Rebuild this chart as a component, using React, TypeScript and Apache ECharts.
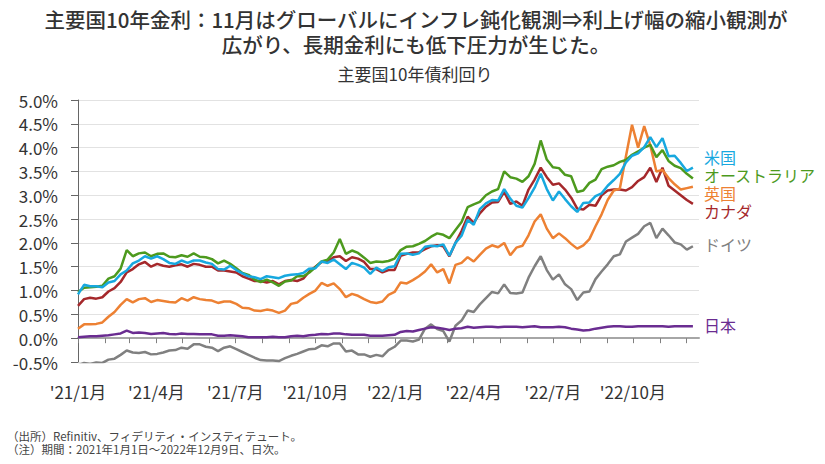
import React, { useEffect, useRef } from 'react';
import * as echarts from 'echarts';

const FONT = '"Noto Sans CJK JP", "Noto Sans", sans-serif';

const titleLines = [
  '主要国10年金利：11月はグローバルにインフレ鈍化観測⇒利上げ幅の縮小観測が',
  '広がり、長期金利にも低下圧力が生じた。',
];
const subtitle = '主要国10年債利回り';
const footnotes = [
  '（出所）Refinitiv、フィデリティ・インスティテュート。',
  '（注）期間：2021年1月1日～2022年12月9日、日次。',
];

// Weekly observation dates (Fridays), 2021-01-01 .. 2022-12-09
const obsDates: Date[] = Array.from({ length: 102 }, (_, i) => new Date(2021, 0, 1 + 7 * i));

// x-axis labels shown every 3 months
const xTickLabels = ["'21/1月", "'21/4月", "'21/7月", "'21/10月", "'22/1月", "'22/4月", "'22/7月", "'22/10月"];

const seriesNames = ['米国', 'オーストラリア', '英国', 'カナダ', 'ドイツ', '日本'];

const us = [
  0.92, 1.12, 1.09, 1.09, 1.07,
  1.17, 1.20, 1.34, 1.42,
  1.57, 1.63, 1.72, 1.67,
  1.72, 1.66, 1.58, 1.56, 1.63,
  1.58, 1.63, 1.63, 1.59,
  1.56, 1.45, 1.44, 1.52,
  1.43, 1.36, 1.30, 1.28, 1.24,
  1.30, 1.28, 1.26, 1.31,
  1.33, 1.34, 1.37, 1.46,
  1.47, 1.61, 1.58, 1.65, 1.55,
  1.45, 1.58, 1.54, 1.48,
  1.35, 1.48, 1.41, 1.49, 1.51,
  1.77, 1.78, 1.75, 1.78,
  1.92, 1.94, 1.93, 1.97,
  1.73, 2.00, 2.15, 2.48,
  2.38, 2.71, 2.83, 2.90, 2.89,
  3.13, 2.93, 2.78, 2.74,
  2.94, 3.16, 3.45, 3.13,
  2.89, 3.08, 2.92, 2.77, 2.65,
  2.84, 2.85, 2.98, 3.04,
  3.20, 3.32, 3.45, 3.69, 3.83,
  3.88, 4.01, 4.22, 4.01,
  4.20, 3.82, 3.83, 3.68,
  3.51, 3.58,
];

const australia = [
  0.97, 1.06, 1.07, 1.08, 1.10,
  1.25, 1.30, 1.46, 1.85,
  1.72, 1.78, 1.80, 1.72,
  1.77, 1.78, 1.71, 1.70, 1.74,
  1.71, 1.78, 1.71, 1.70,
  1.66, 1.57, 1.63, 1.56,
  1.47, 1.37, 1.33, 1.23, 1.18,
  1.23, 1.17, 1.10, 1.19,
  1.21, 1.30, 1.30, 1.38,
  1.49, 1.61, 1.65, 1.80, 2.08,
  1.77, 1.84, 1.79, 1.69,
  1.58, 1.61, 1.60, 1.62, 1.67,
  1.85, 1.92, 1.93, 1.98,
  2.04, 2.13, 2.20, 2.17,
  2.10, 2.27, 2.44, 2.75,
  2.81, 2.86, 3.00, 3.08, 3.13,
  3.50, 3.38, 3.35, 3.28,
  3.40, 3.66, 4.15, 3.75,
  3.59, 3.57, 3.43, 3.40, 3.07,
  3.10, 3.26, 3.33, 3.55,
  3.60, 3.63, 3.70, 3.74, 3.85,
  3.92, 4.00, 4.06, 3.80,
  3.95, 3.72, 3.62, 3.57,
  3.45, 3.35,
];

const uk = [
  0.20, 0.29, 0.29, 0.30, 0.33,
  0.45, 0.55, 0.70, 0.82,
  0.75, 0.82, 0.84, 0.76,
  0.80, 0.78, 0.76, 0.75, 0.84,
  0.79, 0.86, 0.82, 0.80,
  0.79, 0.74, 0.77, 0.77,
  0.72, 0.64, 0.63, 0.58, 0.57,
  0.60, 0.58, 0.53, 0.58,
  0.72, 0.75, 0.85, 0.93,
  1.00, 1.16, 1.10, 1.15, 1.03,
  0.86, 0.93, 0.89, 0.82,
  0.76, 0.74, 0.77, 0.91, 0.97,
  1.17, 1.15, 1.22, 1.30,
  1.40, 1.55, 1.38, 1.45,
  1.15, 1.54, 1.58, 1.70,
  1.61, 1.75, 1.88, 1.95, 1.91,
  2.00, 1.74, 1.90, 1.94,
  2.16, 2.45, 2.60, 2.30,
  2.10, 2.20, 2.10, 1.98, 1.88,
  1.95, 2.08, 2.35, 2.60,
  2.90, 3.10, 3.14, 3.82, 4.48,
  4.00, 4.45, 4.05, 3.50,
  3.53, 3.36, 3.23, 3.12,
  3.15, 3.18,
];

const canada = [
  0.68, 0.82, 0.85, 0.83, 0.86,
  0.98, 1.05, 1.18, 1.38,
  1.45, 1.55, 1.60, 1.50,
  1.56, 1.52, 1.50, 1.53, 1.55,
  1.50, 1.56, 1.54, 1.50,
  1.50, 1.42, 1.42, 1.40,
  1.38, 1.30, 1.25, 1.20, 1.20,
  1.17, 1.20, 1.13, 1.20,
  1.22, 1.20, 1.25, 1.40,
  1.50, 1.60, 1.61, 1.70, 1.72,
  1.62, 1.70, 1.67, 1.60,
  1.45, 1.45, 1.38, 1.43, 1.43,
  1.73, 1.77, 1.80, 1.80,
  1.87, 1.93, 1.95, 1.93,
  1.72, 2.00, 2.25, 2.55,
  2.42, 2.62, 2.76, 2.85, 2.86,
  3.07, 2.82, 2.87, 2.78,
  3.12, 3.33, 3.58, 3.38,
  3.22, 3.25, 3.12, 2.95, 2.72,
  2.70, 2.80, 2.78, 3.00,
  3.10, 3.12, 3.12, 3.10, 3.17,
  3.30, 3.38, 3.58, 3.28,
  3.58, 3.20, 3.10, 3.00,
  2.90, 2.82,
];

const germany = [
  -0.57, -0.52, -0.54, -0.51, -0.52,
  -0.45, -0.43, -0.35, -0.26,
  -0.30, -0.31, -0.29, -0.34,
  -0.33, -0.30, -0.26, -0.25, -0.20,
  -0.22, -0.13, -0.13, -0.18,
  -0.20, -0.27, -0.20, -0.17,
  -0.23, -0.29, -0.35, -0.41, -0.46,
  -0.47, -0.47, -0.48, -0.42,
  -0.37, -0.33, -0.28, -0.23,
  -0.22, -0.15, -0.17, -0.11, -0.11,
  -0.28, -0.26, -0.34, -0.34,
  -0.39, -0.35, -0.38, -0.25, -0.18,
  -0.05, -0.05, -0.07, -0.03,
  0.20, 0.29, 0.19, 0.15,
  -0.07, 0.26, 0.37, 0.58,
  0.55, 0.71, 0.84, 0.97, 0.94,
  1.13, 0.95, 0.94, 0.96,
  1.27, 1.51, 1.72, 1.43,
  1.23, 1.34, 1.13, 1.03, 0.80,
  0.96, 0.98, 1.24, 1.40,
  1.55, 1.72, 1.76, 2.03, 2.11,
  2.19, 2.35, 2.42, 2.10,
  2.30, 2.16, 2.01, 1.97,
  1.86, 1.93,
];

const japan = [
  0.02, 0.03, 0.04, 0.04, 0.05,
  0.06, 0.08, 0.10, 0.16,
  0.11, 0.12, 0.11, 0.09,
  0.10, 0.11, 0.09, 0.08, 0.10,
  0.09, 0.09, 0.08, 0.08,
  0.08, 0.05, 0.05, 0.06,
  0.05, 0.04, 0.02, 0.02, 0.02,
  0.02, 0.03, 0.02, 0.02,
  0.04, 0.05, 0.04, 0.06,
  0.07, 0.09, 0.08, 0.10, 0.10,
  0.08, 0.07, 0.07, 0.07,
  0.05, 0.05, 0.05, 0.06, 0.07,
  0.13, 0.15, 0.14, 0.17,
  0.20, 0.23, 0.22, 0.20,
  0.17, 0.20, 0.21, 0.24,
  0.22, 0.23, 0.24, 0.24, 0.23,
  0.24, 0.24, 0.24, 0.23,
  0.24, 0.25, 0.23, 0.23,
  0.23, 0.24, 0.23, 0.20, 0.18,
  0.16, 0.17, 0.20, 0.22,
  0.24, 0.25, 0.25, 0.24, 0.24,
  0.25, 0.25, 0.25, 0.25,
  0.25, 0.24, 0.25, 0.25,
  0.25, 0.25,
];

const seriesValues = [us, australia, uk, canada, germany, japan];
const seriesColors = ['#17a8df', '#4d9a1e', '#ed8133', '#a5282b', '#808080', '#6a2c91'];
const labelOffsets = [-11, -3.5, 6.5, 7, -2, -1];
const drawOrder = [4, 5, 3, 2, 1, 0];

export default function App() {
  const ref = useRef<HTMLDivElement>(null);
  useEffect(() => {
    if (!ref.current) return;
    const chart = echarts.init(ref.current, undefined, { renderer: 'svg' });
    const DAY = 86400000;
    const series = drawOrder.map((k) => ({
      name: seriesNames[k],
      type: 'line',
      showSymbol: false,
      symbol: 'none',
      silent: true,
      data: obsDates.map((d, i) => [d.getTime(), seriesValues[k][i]]),
      lineStyle: { color: seriesColors[k], width: 2.5 },
      itemStyle: { color: seriesColors[k] },
      endLabel: {
        show: true,
        formatter: seriesNames[k],
        color: seriesColors[k],
        fontFamily: FONT,
        fontSize: 16,
        lineHeight: 17,
        distance: 11,
        offset: [0, labelOffsets[k]],
      },
    }));
    chart.setOption({
      animation: false,
      textStyle: { fontFamily: FONT },
      grid: { left: 78, right: 126, top: 100, bottom: 102, containLabel: false },
      xAxis: {
        type: 'time',
        min: new Date(2021, 0, 1).getTime(),
        max: new Date(2022, 11, 16).getTime(),
        splitNumber: 24,
        minInterval: 28 * DAY,
        maxInterval: 31 * DAY,
        axisLine: { onZero: true, lineStyle: { color: '#a6a6a6', width: 2 } },
        axisTick: { show: true, length: 5, lineStyle: { color: '#808080', width: 1 } },
        splitLine: { show: false },
        axisLabel: {
          margin: 21,
          fontSize: 17,
          color: '#333',
          fontFamily: FONT,
          showMinLabel: true,
          hideOverlap: false,
          formatter: (v: number) => {
            const d = new Date(v);
            const lab = "'" + String(d.getFullYear()).slice(2) + '/' + (d.getMonth() + 1) + '月';
            return xTickLabels.includes(lab) ? lab : '';
          },
        },
      },
      yAxis: {
        type: 'value',
        min: -0.5,
        max: 5,
        interval: 0.5,
        axisLine: { show: true, lineStyle: { color: '#666', width: 1 } },
        axisTick: { show: true, length: 7, lineStyle: { color: '#666' } },
        splitLine: { show: true, lineStyle: { color: '#e2e2e2', width: 1 } },
        axisLabel: {
          margin: 20,
          fontSize: 17,
          color: '#333',
          fontFamily: FONT,
          formatter: (v: number) => v.toFixed(1) + '%',
        },
      },
      series,
      graphic: [
        {
          type: 'text', x: 416, y: 19,
          style: { text: titleLines[0], fill: '#333', font: `500 20.5px ${FONT}`, textAlign: 'center', textVerticalAlign: 'middle' },
        },
        {
          type: 'text', x: 416, y: 44,
          style: { text: titleLines[1], fill: '#333', font: `500 20.5px ${FONT}`, textAlign: 'center', textVerticalAlign: 'middle' },
        },
        {
          type: 'text', x: 415, y: 73,
          style: { text: subtitle, fill: '#333', font: `17px ${FONT}`, textAlign: 'center', textVerticalAlign: 'middle' },
        },
        {
          type: 'text', x: 7, y: 436,
          style: { text: footnotes[0], fill: '#444', font: `11.5px ${FONT}`, textAlign: 'left', textVerticalAlign: 'middle' },
        },
        {
          type: 'text', x: 7, y: 449,
          style: { text: footnotes[1], fill: '#444', font: `11.5px ${FONT}`, textAlign: 'left', textVerticalAlign: 'middle' },
        },
      ],
    });
    return () => chart.dispose();
  }, []);
  return (
    <div
      ref={ref}
      style={{ position: 'fixed', left: 0, top: 0, width: 825, height: 464, background: '#fff' }}
    />
  );
}
